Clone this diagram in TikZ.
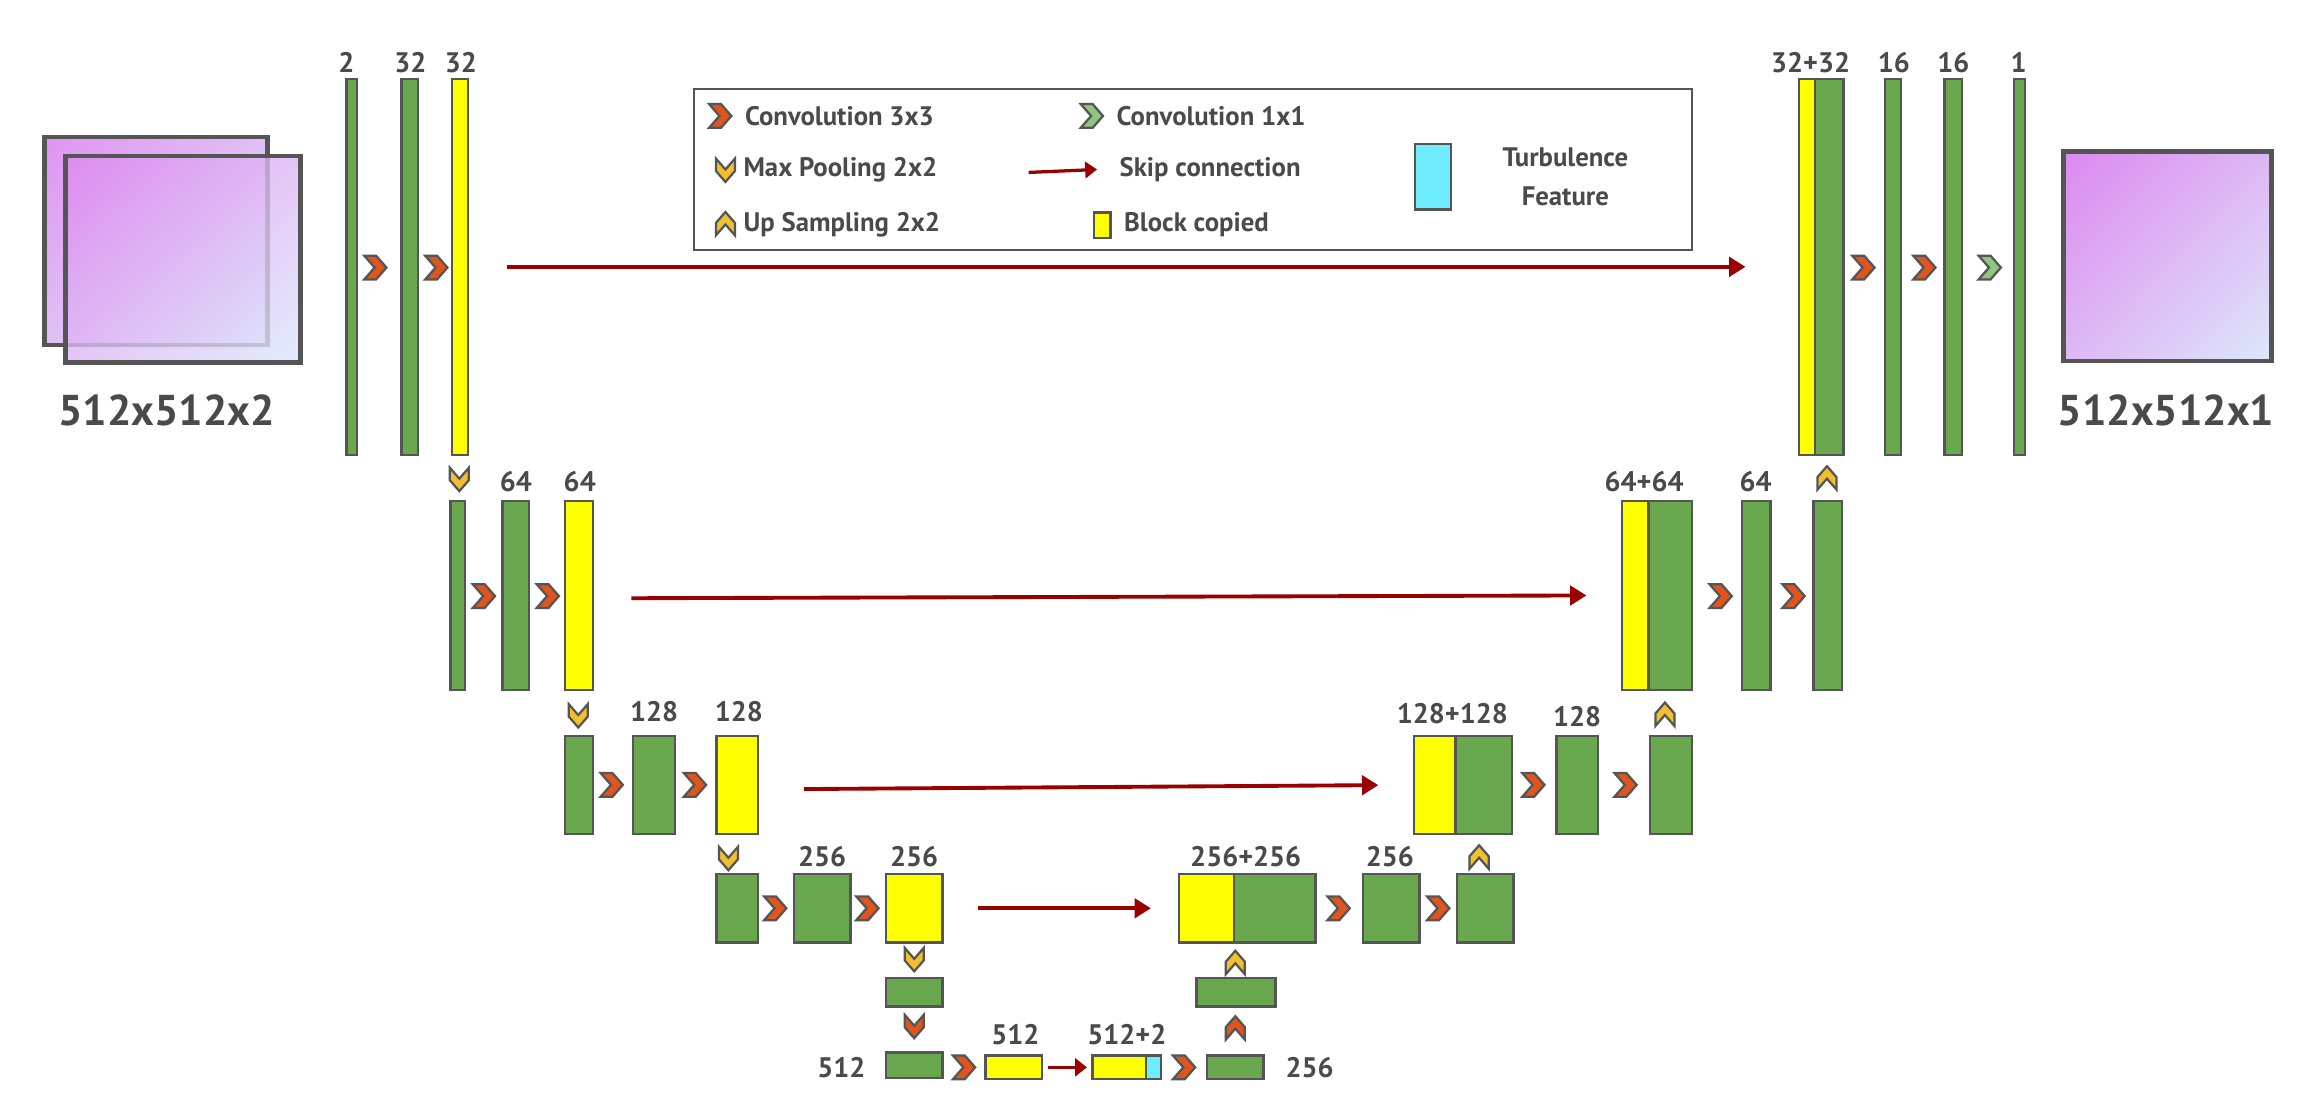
\documentclass[tikz,border=0pt]{standalone}
\usepackage{fontspec}
\setmainfont{PT Sans}
\usetikzlibrary{arrows.meta,shadings}
\definecolor{edge}{HTML}{555555}
\definecolor{txt}{HTML}{4A4A4A}
\definecolor{bgreen}{HTML}{6AA84F}
\definecolor{byel}{HTML}{FFFF00}
\definecolor{bcyan}{HTML}{70ECFF}
\definecolor{corange}{HTML}{E0541E}
\definecolor{cyel}{HTML}{F0C030}
\definecolor{cgreen}{HTML}{93C47D}
\definecolor{skipred}{HTML}{990000}
\definecolor{violet}{HTML}{DD88F0}
\definecolor{paleblue}{HTML}{DCE8FA}
\definecolor{midv}{HTML}{DDB8F4}
\newcommand\blk[6]{\node[blkst,fill=#6,minimum width={(#4-#2)*1pt},minimum height={(#5-#3)*1pt}] (#1) at ({(#2+#4)/2},{(#3+#5)/2}) {};}
\tikzset{
 blkst/.style={draw=edge,line width=1.6pt,inner sep=0pt,rectangle},
 lbl/.style={text=txt,font=\fontsize{19}{22}\selectfont\bfseries,inner sep=0pt},
 leg/.style={text=txt,font=\fontsize{18}{22}\selectfont\bfseries,inner sep=0pt,anchor=west},
 big/.style={text=txt,font=\fontsize{29}{34}\selectfont\bfseries,inner sep=0pt},
 skip/.style={draw=skipred,line width=2.6pt,-{Triangle[length=11pt,width=13pt]}},
 pics/chev/.style={code={\path[pic actions,draw=edge,line width=1.5pt,line join=miter] (-7,-8)--(1,-8)--(8,0)--(1,8)--(-7,8)--(0,0)--cycle;}},
 cv/.style={fill=corange},
 mp/.style={fill=cyel,rotate=-90,xscale=1.05,yscale=0.8},
 up/.style={fill=cyel,rotate=90,xscale=1.05,yscale=0.8},
 grad/.style={upper left=violet,lower right=paleblue,upper right=midv,lower left=midv},
}
\begin{document}
\begin{tikzpicture}[x=1pt,y=-1pt]
\useasboundingbox (0,0) rectangle (1560,749);
% input images
\shade[grad,fill opacity=0.9] (30,92) rectangle (180,232);
\draw[edge,line width=3pt] (30,92) rectangle (180,232);
\shade[grad,fill opacity=0.8] (44,105) rectangle (202,244);
\draw[edge,line width=3pt] (44,105) rectangle (202,244);
\node[big] (inl) at (112,276) {512x512x2};
\shade[grad] (1388,102) rectangle (1528,243);
\draw[edge,line width=3pt] (1388,102) rectangle (1528,243);
\node[big] (outl) at (1457,276) {512x512x1};
% legend
\node[draw=edge,line width=1.5pt,minimum width=671pt,minimum height=108pt,inner sep=0pt] (legend) at (802.5,114) {};
\pic[cv] at (484,78) {chev}; \node[leg] (l1) at (501,78) {Convolution 3x3};
\pic[fill=cgreen] at (734,78) {chev}; \node[leg] (l2) at (751,78) {Convolution 1x1};
\pic[mp] at (488,114) {chev}; \node[leg] (l3) at (500,114) {Max Pooling 2x2};
\coordinate (s1) at (692,116); \coordinate (s2) at (738,114);
\draw[skip,line width=2.2pt,-{Triangle[length=8pt,width=11pt]}] (s1) -- (s2);
\node[leg] (l4) at (753,114) {Skip connection};
\pic[up] at (488,151) {chev}; \node[leg] (l5) at (500,151) {Up Sampling 2x2};
\blk{lby}{736}{143}{747}{160}{byel} \node[leg] (l6) at (756,151) {Block copied};
\blk{lbc}{952}{97}{976}{141}{bcyan}
\node[leg,anchor=center,align=center,font=\fontsize{18}{26}\selectfont\bfseries] (l7) at (1053,119) {Turbulence\\Feature};
% level 1 left
\blk{a1}{233}{53}{240}{306}{bgreen} \node[lbl] at (233,42) {2};
\blk{a2}{270}{53}{281}{306}{bgreen} \node[lbl] at (276,42) {32};
\blk{a3}{304}{53}{315}{306}{byel} \node[lbl] at (310,42) {32};
\pic[cv] at (252,180) {chev}; \pic[cv] at (293,180) {chev};
% level 1 right
\blk{ar1}{1210}{53}{1221}{306}{byel}
\blk{ar2}{1221}{53}{1240}{306}{bgreen} \node[lbl] at (1218,42) {32+32};
\blk{ar3}{1268}{53}{1279}{306}{bgreen} \node[lbl] at (1274,42) {16};
\blk{ar4}{1308}{53}{1320}{306}{bgreen} \node[lbl] at (1314,42) {16};
\blk{ar5}{1355}{53}{1362}{306}{bgreen} \node[lbl] at (1358,42) {1};
\pic[cv] at (1253,180) {chev}; \pic[cv] at (1294,180) {chev}; \pic[fill=cgreen] at (1338,180) {chev};
\draw[skip,shorten <=25pt,shorten >=35pt] (a3.east) -- (ar1.west|-a3.east);
% level 2
\pic[mp] at (309,322) {chev};
\blk{b1}{303}{337}{313}{464}{bgreen}
\blk{b2}{338}{337}{356}{464}{bgreen} \node[lbl] at (347,324) {64};
\blk{b3}{380}{337}{399}{464}{byel} \node[lbl] at (390,324) {64};
\pic[cv] at (325,401) {chev}; \pic[cv] at (368,401) {chev};
\blk{br1}{1091}{337}{1109}{464}{byel}
\blk{br2}{1109}{337}{1138}{464}{bgreen} \node[lbl] at (1106,324) {64+64};
\blk{br3}{1172}{337}{1191}{464}{bgreen} \node[lbl] at (1181,324) {64};
\blk{br4}{1220}{337}{1239}{464}{bgreen}
\pic[cv] at (1157,401) {chev}; \pic[cv] at (1206,401) {chev};
\pic[up] at (1229,322) {chev};
\draw[skip,shorten <=25pt,shorten >=23pt] ([yshift=-2pt]b3.east) -- (br1.west|-b3.east);
% level 3
\pic[mp] at (389,481) {chev};
\blk{c1}{380}{495}{399}{561}{bgreen}
\blk{c2}{426}{495}{454}{561}{bgreen} \node[lbl] at (440,479) {128};
\blk{c3}{482}{495}{510}{561}{byel} \node[lbl] at (497,479) {128};
\pic[cv] at (411,528) {chev}; \pic[cv] at (467,528) {chev};
\blk{cr1}{951}{495}{979}{561}{byel}
\blk{cr2}{979}{495}{1017}{561}{bgreen} \node[lbl] at (977,480) {128+128};
\blk{cr3}{1047}{495}{1075}{561}{bgreen} \node[lbl] at (1061,482) {128};
\blk{cr4}{1110}{495}{1138}{561}{bgreen}
\pic[cv] at (1031,528) {chev}; \pic[cv] at (1093,528) {chev};
\pic[up] at (1120,481) {chev};
\draw[skip,shorten <=30pt,shorten >=23pt] ([yshift=-3pt]c3.east) -- (cr1.west|-c3.east);
% level 4
\pic[mp] at (490,577) {chev};
\blk{d1}{482}{588}{510}{634}{bgreen}
\blk{d2}{534}{588}{572}{634}{bgreen} \node[lbl] at (553,576) {256};
\blk{d3}{596}{588}{634}{634}{byel} \node[lbl] at (615,576) {256};
\pic[cv] at (521,611) {chev}; \pic[cv] at (583,611) {chev};
\blk{dr1}{793}{588}{830}{634}{byel}
\blk{dr2}{830}{588}{885}{634}{bgreen} \node[lbl] at (838,576) {256+256};
\blk{dr3}{917}{588}{955}{634}{bgreen} \node[lbl] at (935,576) {256};
\blk{dr4}{980}{588}{1018}{634}{bgreen}
\pic[cv] at (900,611) {chev}; \pic[cv] at (967,611) {chev};
\pic[up] at (995,577) {chev};
\draw[skip,shorten <=23pt,shorten >=18pt] (d3.east) -- (dr1.west);
% bottom
\pic[mp] at (615,645) {chev};
\blk{e0}{596}{658}{634}{677}{bgreen}
\pic[fill=corange,rotate=-90,xscale=1.05,yscale=0.8] at (615,690) {chev};
\blk{e1}{596}{708}{634}{725}{bgreen} \node[lbl] at (566,718) {512};
\pic[cv] at (648,718) {chev};
\blk{e2}{663}{710}{701}{726}{byel} \node[lbl] at (683,696) {512};
\blk{e3}{735}{710}{771}{726}{byel}
\blk{e4}{771}{710}{781}{726}{bcyan} \node[lbl] at (758,696) {512+2};
\draw[skip,line width=2.2pt,-{Triangle[length=8pt,width=12pt]},shorten <=3pt,shorten >=3pt] (e2.east) -- (e3.west);
\pic[cv] at (796,718) {chev};
\blk{e5}{812}{710}{850}{726}{bgreen} \node[lbl] at (881,718) {256};
\pic[fill=corange,rotate=90,xscale=1.05,yscale=0.8] at (831,692) {chev};
\blk{e6}{805}{658}{858}{677}{bgreen}
\pic[up] at (831,648) {chev};
\end{tikzpicture}
\end{document}
